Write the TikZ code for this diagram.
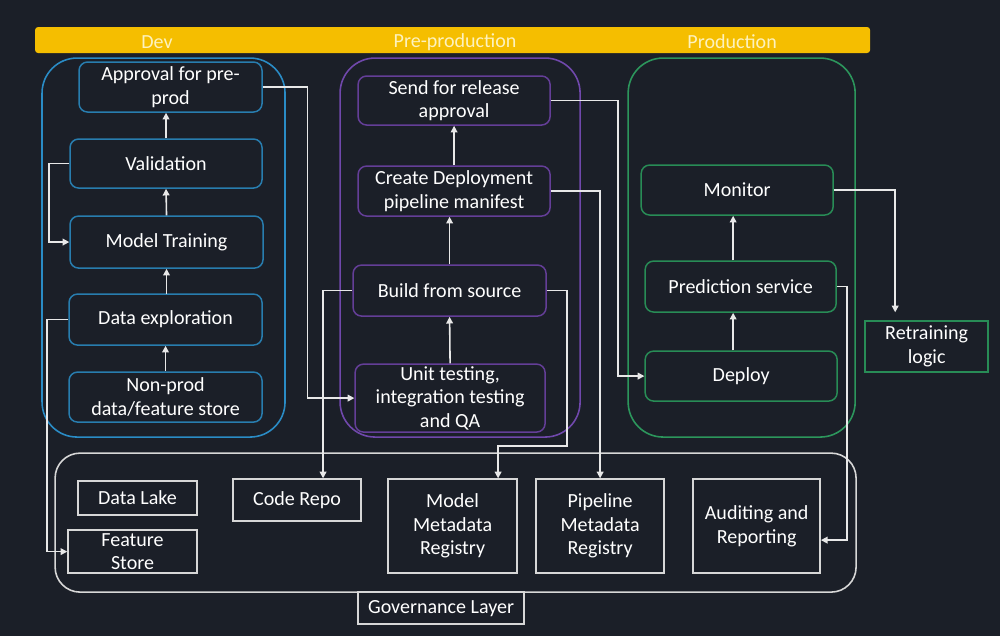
\documentclass[tikz,border=0pt]{standalone}
\usepackage{fontspec}
\setmainfont{Carlito}
\usetikzlibrary{arrows.meta}
\definecolor{bg}{RGB}{27,31,40}
\definecolor{ybar}{RGB}{245,190,0}
\definecolor{ytext}{RGB}{253,242,190}
\definecolor{devc}{RGB}{42,140,198}
\definecolor{devb}{RGB}{40,125,175}
\definecolor{prec}{RGB}{112,72,172}
\definecolor{preb}{RGB}{100,62,152}
\definecolor{prodc}{RGB}{44,150,92}
\definecolor{prodb}{RGB}{40,140,86}
\definecolor{ln}{RGB}{232,232,232}
\definecolor{gb}{RGB}{215,215,215}
\tikzset{
  txt/.style={text=white,font=\fontsize{11.4}{13.4}\selectfont,align=center,inner sep=0pt},
  devbox/.style={txt,draw=devb,line width=0.85pt,rounded corners=0.17cm},
  prebox/.style={txt,draw=preb,line width=0.85pt,rounded corners=0.17cm},
  prodbox/.style={txt,draw=prodb,line width=0.85pt,rounded corners=0.17cm},
  retbox/.style={txt,draw=prodb,line width=0.85pt},
  govbox/.style={txt,draw=gb,line width=0.85pt},
  container/.style={line width=0.9pt,rounded corners=0.7cm,inner sep=0pt},
  arr/.style={draw=ln,line width=0.9pt,-{Triangle[length=3.8pt,width=3.8pt]}},
}
\begin{document}
\begin{tikzpicture}
\fill[bg] (0,0) rectangle (20,-12.72);
\useasboundingbox (0,0) rectangle (20,-12.72);
\begin{scope}[x=0.02cm,y=-0.02cm]
% header bar
\node[fill=ybar,rounded corners=0.06cm,minimum width=16.7cm,minimum height=0.52cm,inner sep=0pt] (bar) at (452.5,40) {};
\node[txt,text=ytext] (hdev) at (157,42) {Dev};
\node[txt,text=ytext] (hpre) at (455,42) {Pre-production};
\node[txt,text=ytext] (hprod) at (732,42) {Production};
% containers
\node[container,draw=devc,minimum width=4.86cm,minimum height=7.58cm] (cdev) at (163.5,247.5) {};
\node[container,draw=prec,minimum width=4.8cm,minimum height=7.58cm] (cpre) at (460,247.5) {};
\node[container,draw=prodc,minimum width=4.54cm,minimum height=7.58cm] (cprod) at (741.5,247.5) {};
\node[container,draw=gb,rounded corners=0.5cm,minimum width=16.02cm,minimum height=2.78cm] (cgov) at (455.5,522.5) {};
% dev boxes
\node[devbox,minimum width=3.66cm,minimum height=1.0cm] (appr) at (170.5,87) {Approval for pre-\\prod};
\node[devbox,minimum width=3.84cm,minimum height=0.98cm] (valid) at (166,163.5) {Validation};
\node[devbox,minimum width=3.86cm,minimum height=1.04cm] (train) at (166.5,242) {Model Training};
\node[devbox,minimum width=3.86cm,minimum height=1.02cm] (explore) at (165.5,319.5) {Data exploration};
\node[devbox,minimum width=3.86cm,minimum height=1.0cm] (nonprod) at (165.5,397) {Non-prod\\data/feature store};
% pre-production boxes
\node[prebox,minimum width=3.84cm,minimum height=0.98cm] (send) at (454,100.5) {Send for release\\approval};
\node[prebox,minimum width=3.84cm,minimum height=1.0cm] (create) at (454,191) {Create Deployment\\pipeline manifest};
\node[prebox,minimum width=3.86cm,minimum height=1.02cm] (build) at (449.5,290.5) {Build from source};
\node[prebox,minimum width=3.8cm,minimum height=1.36cm] (unit) at (450,398) {Unit testing,\\integration testing\\and QA};
% production boxes
\node[prodbox,minimum width=3.84cm,minimum height=1.0cm] (monitor) at (737,190) {Monitor};
\node[prodbox,minimum width=3.82cm,minimum height=1.02cm] (predict) at (740.5,286.5) {Prediction service};
\node[prodbox,minimum width=3.84cm,minimum height=1.0cm] (deploy) at (741,376) {Deploy};
\node[retbox,minimum width=2.46cm,minimum height=1.02cm] (retrain) at (926.5,346.5) {Retraining\\logic};
% governance boxes
\node[govbox,minimum width=2.38cm,minimum height=0.68cm] (lake) at (137.5,498) {Data Lake};
\node[govbox,minimum width=2.58cm,minimum height=0.86cm] (fstore) at (132.5,551.5) {Feature\\Store};
\node[govbox,minimum width=2.56cm,minimum height=0.84cm] (repo) at (297,500) {Code Repo};
\node[govbox,minimum width=2.58cm,minimum height=1.88cm] (model) at (452.5,526) {Model\\Metadata\\Registry};
\node[govbox,minimum width=2.56cm,minimum height=1.88cm] (pipe) at (600,526) {Pipeline\\Metadata\\Registry};
\node[govbox,minimum width=2.54cm,minimum height=1.88cm] (audit) at (756.5,526) {Auditing and\\Reporting};
\node[govbox,minimum width=3.32cm,minimum height=0.64cm] (gov) at (441,608) {Governance Layer};
% dev connectors
\draw[arr] (nonprod.north) -- (explore.south);
\draw[arr] (explore.north) -- (train.north |- explore.north) -- (train.south);
\draw[arr] (train.north) -- (valid.south);
\draw[arr] (valid.north) -- (valid.north |- appr.south);
\draw[arr] (valid.west) -- ++(-20,0) |- (train.west);
\draw[arr] (explore.west) -- ++(-21,0) |- (fstore.west);
\draw[arr] (appr.east) -- ++(44.5,0) |- (unit.west);
% pre-production connectors
\draw[arr] (unit.north) -- (build.south);
\draw[arr] (build.north) -- (build.north |- create.south);
\draw[arr] (create.north) -- (send.south);
\draw[arr] (build.west) -| ([xshift=0.52cm]repo.north);
\draw[arr] (build.east) -- ++(20,0) -- ++(0,155.5) -| ([xshift=0.91cm]model.north);
\draw[arr] (create.east) -| (pipe.north);
\draw[arr] (send.east) -- ++(67,0) |- (deploy.west);
% production connectors
\draw[arr] ([xshift=-0.16cm]deploy.north) -- ([xshift=-0.16cm]deploy.north |- predict.south);
\draw[arr] ([xshift=-0.15cm]predict.north) -- ([xshift=-0.15cm]predict.north |- monitor.south);
\draw[arr] (monitor.east) -| ([xshift=-0.63cm,yshift=0.16cm]retrain.north);
\draw[arr] (predict.east) -- ++(10,0) |- ([yshift=-0.28cm]audit.east);
\end{scope}
\end{tikzpicture}
\end{document}
